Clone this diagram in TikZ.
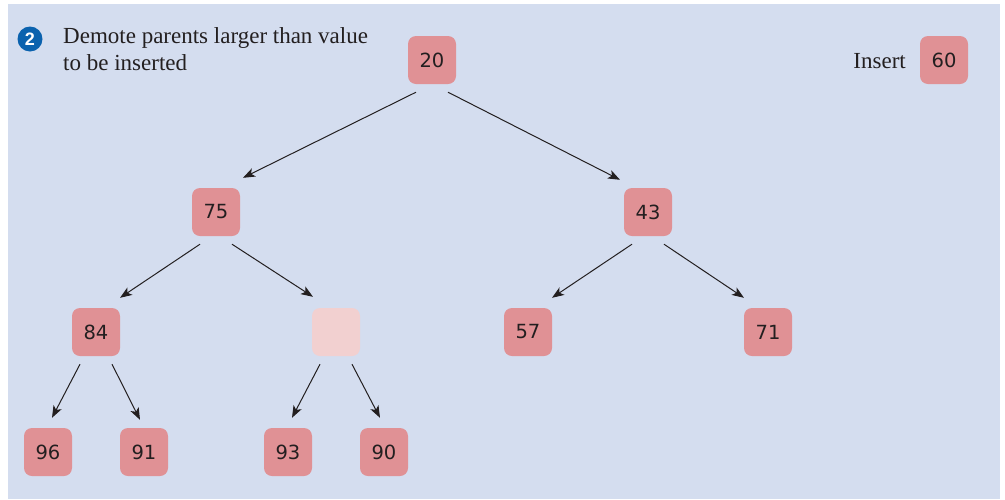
\documentclass[tikz,border=0pt]{standalone}
\usepackage{fontspec}
\setmainfont{Liberation Serif}
\setsansfont{Liberation Sans}
\newfontfamily\numfont{DejaVu Sans}
\usetikzlibrary{arrows.meta}
\definecolor{bg}{HTML}{D4DDEF}
\definecolor{nodefill}{HTML}{E09195}
\definecolor{emptyfill}{HTML}{F2D0D0}
\definecolor{badge}{HTML}{0B62AE}
\definecolor{ink}{HTML}{231F20}
\tikzset{
  heapnode/.style={rectangle, rounded corners=8pt, fill=nodefill, minimum width=48pt, minimum height=48pt, inner sep=0pt, text=ink, font=\numfont\fontsize{19.5}{19.5}\selectfont},
  emptynode/.style={heapnode, fill=emptyfill},
  arr/.style={draw=ink, line width=1pt, -{Stealth[length=12pt,width=9pt,inset=3pt]}},
  captext/.style={text=ink, font=\fontsize{23}{27}\selectfont, inner sep=0pt, anchor=base west}
}
\begin{document}
\begin{tikzpicture}[x=1pt,y=-1pt]
\useasboundingbox (0,0) rectangle (1005,499);
\fill[bg] (8,4) rectangle (1000,499);
% badge and caption
\node[circle, fill=badge, minimum size=25pt, inner sep=0pt, text=white, font=\sffamily\bfseries\fontsize{18}{18}\selectfont] (badge) at (30,39) {2};
\node[captext] (cap1) at (63,43) {Demote parents larger than value};
\node[captext] (cap2) at (63,70) {to be inserted};
% insert
\node[heapnode] (ins) at (944,60) {60};
\node[captext, anchor=base east] (instext) at (906,68) {Insert};
% tree
\node[heapnode] (n20) at (432,60) {20};
\node[heapnode] (n75) at (216,212) {75};
\node[heapnode] (n43) at (648,212) {43};
\node[heapnode] (n84) at (96,332) {84};
\node[emptynode] (ne) at (336,332) {};
\node[heapnode] (n57) at (528,332) {57};
\node[heapnode] (n71) at (768,332) {71};
\node[heapnode] (n96) at (48,452) {96};
\node[heapnode] (n91) at (144,452) {91};
\node[heapnode] (n93) at (288,452) {93};
\node[heapnode] (n90) at (384,452) {90};
% connectors
\draw[arr] ([xshift=-16pt,yshift=-8pt]n20.south) -- ([xshift=27pt,yshift=10pt]n75.north);
\draw[arr] ([xshift=16pt,yshift=-8pt]n20.south) -- ([xshift=-28pt,yshift=8pt]n43.north);
\draw[arr] ([xshift=-16pt,yshift=-8pt]n75.south) -- ([xshift=24pt,yshift=10pt]n84.north);
\draw[arr] ([xshift=16pt,yshift=-8pt]n75.south) -- ([xshift=-23pt,yshift=11pt]ne.north);
\draw[arr] ([xshift=-16pt,yshift=-8pt]n43.south) -- ([xshift=24pt,yshift=10pt]n57.north);
\draw[arr] ([xshift=16pt,yshift=-8pt]n43.south) -- ([xshift=-24pt,yshift=10pt]n71.north);
\draw[arr] ([xshift=-16pt,yshift=-8pt]n84.south) -- ([xshift=4pt,yshift=10pt]n96.north);
\draw[arr] ([xshift=16pt,yshift=-8pt]n84.south) -- ([xshift=-4pt,yshift=8pt]n91.north);
\draw[arr] ([xshift=-16pt,yshift=-8pt]ne.south) -- ([xshift=4pt,yshift=10pt]n93.north);
\draw[arr] ([xshift=16pt,yshift=-8pt]ne.south) -- ([xshift=-4pt,yshift=10pt]n90.north);
\end{tikzpicture}
\end{document}
